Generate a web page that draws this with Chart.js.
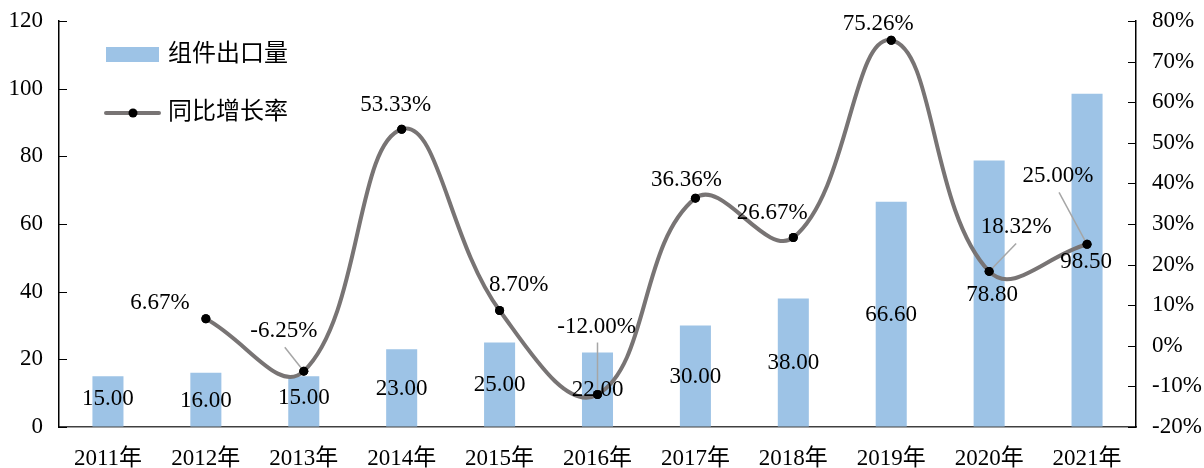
<!DOCTYPE html>
<html>
<head>
<meta charset="utf-8">
<script src="https://cdn.jsdelivr.net/npm/chart.js@4"></script>
<style>
html,body{margin:0;padding:0;background:#fff;}
#wrap{width:1204px;height:468px;}
</style>
</head>
<body>
<div id="wrap"><canvas id="c" width="1204" height="468"></canvas></div>
<script>
// ---- data ----
const categories = ['2011年','2012年','2013年','2014年','2015年','2016年','2017年','2018年','2019年','2020年','2021年'];
const exportVolume = [15.00, 16.00, 15.00, 23.00, 25.00, 22.00, 30.00, 38.00, 66.60, 78.80, 98.50];
const growthRate = [null, 6.67, -6.25, 53.33, 8.70, -12.00, 36.36, 26.67, 75.26, 18.32, 25.00];
const seriesNames = ['组件出口量', '同比增长率'];

// ---- label layout (pixel offsets, styling only) ----
// bar labels: [dx, dy] relative to bar base (dy upward from axis)
const barLabelOffset = [[0,28],[0,26],[0,29],[0,38],[0,42],[0,37],[0,50],[0,64],[0,112],[3,24],[-1,18]];
// line labels: [dx, dy] relative to point; leader flag
const lineLabelOffset = [null,[-46,-16],[-20,-40],[-6,-24],[19,-26],[-1,-68],[-9,-18],[-21,-25],[-13,-16],[27,-44],[-29,-68]];
const lineLabelLeader = [false,false,true,false,false,true,false,false,false,true,true];

const FONT = '"Liberation Serif", "Times New Roman", "Noto Sans CJK SC", serif';
const BAR_COLOR = '#9DC3E6';
const LINE_COLOR = '#787474';

const decorPlugin = {
  id: 'decor',
  afterDatasetsDraw(chart) {
    const ctx = chart.ctx;
    const ca = chart.chartArea;
    ctx.save();
    // inward tick marks
    ctx.strokeStyle = '#000';
    ctx.lineWidth = 1;
    const yS = chart.scales.y, y1S = chart.scales.y1;
    yS.ticks.forEach(t => {
      const py = Math.round(yS.getPixelForValue(t.value)) + 0.5;
      ctx.beginPath(); ctx.moveTo(ca.left, py); ctx.lineTo(ca.left + 8, py); ctx.stroke();
    });
    y1S.ticks.forEach(t => {
      const py = Math.round(y1S.getPixelForValue(t.value)) + 0.5;
      ctx.beginPath(); ctx.moveTo(ca.right, py); ctx.lineTo(ca.right - 8, py); ctx.stroke();
    });

    // bar labels
    ctx.font = '23px ' + FONT;
    ctx.fillStyle = '#000';
    ctx.textAlign = 'center';
    ctx.textBaseline = 'middle';
    const barMeta = chart.getDatasetMeta(0);
    const lineMeta = chart.getDatasetMeta(1);
    barMeta.data.forEach((el, i) => {
      const off = barLabelOffset[i];
      if (i >= 9) {
        // placed next to the growth point
        const pm = lineMeta.data[i];
        ctx.fillText(exportVolume[i].toFixed(2), pm.x + off[0], pm.y + off[1]);
      } else {
        ctx.fillText(exportVolume[i].toFixed(2), el.x + off[0], yS.getPixelForValue(0) - off[1]);
      }
    });

    // line labels + leaders
    lineMeta.data.forEach((el, i) => {
      if (growthRate[i] === null) return;
      const off = lineLabelOffset[i];
      const lx = el.x + off[0], ly = el.y + off[1];
      if (lineLabelLeader[i]) {
        ctx.strokeStyle = '#A6A6A6';
        ctx.lineWidth = 1.5;
        ctx.beginPath(); ctx.moveTo(lx + (off[0] < 0 ? 1 : 0), ly + 16); ctx.lineTo(el.x, el.y); ctx.stroke();
      }
      ctx.fillStyle = '#000';
      ctx.fillText(growthRate[i].toFixed(2) + '%', lx, ly);
    });
    // redraw points on top of leaders
    lineMeta.data.forEach((el, i) => {
      if (growthRate[i] === null) return;
      ctx.fillStyle = '#000';
      ctx.beginPath(); ctx.arc(el.x, el.y, 4.5, 0, Math.PI * 2); ctx.fill();
    });

    // legend
    ctx.fillStyle = BAR_COLOR;
    ctx.fillRect(106, 47, 53, 15);
    ctx.strokeStyle = LINE_COLOR;
    ctx.lineWidth = 4;
    ctx.lineCap = 'round';
    ctx.beginPath(); ctx.moveTo(106, 113); ctx.lineTo(159, 113); ctx.stroke();
    ctx.fillStyle = '#000';
    ctx.beginPath(); ctx.arc(133, 113, 4.5, 0, Math.PI * 2); ctx.fill();
    ctx.font = '24px ' + FONT;
    ctx.textAlign = 'left';
    ctx.fillText(seriesNames[0], 168, 55);
    ctx.fillText(seriesNames[1], 168, 113);
    ctx.restore();
  }
};

function fixV(w) {
  return function (s) { s.width = w; s.paddingTop = 0; s.paddingBottom = 0; };
}

new Chart(document.getElementById('c'), {
  type: 'bar',
  data: {
    labels: categories,
    datasets: [
      {
        type: 'bar',
        label: seriesNames[0],
        data: exportVolume,
        backgroundColor: BAR_COLOR,
        categoryPercentage: 1,
        barPercentage: 0.317,
        yAxisID: 'y',
        order: 2
      },
      {
        type: 'line',
        label: seriesNames[1],
        data: growthRate,
        borderColor: LINE_COLOR,
        borderWidth: 4,
        tension: 0.42,
        pointRadius: 4.5,
        pointBackgroundColor: '#000',
        pointBorderWidth: 0,
        yAxisID: 'y1',
        order: 1,
        spanGaps: false
      }
    ]
  },
  options: {
    responsive: false,
    animation: false,
    events: [],
    layout: { padding: { top: 21, left: 0, right: 0, bottom: 0 } },
    plugins: { legend: { display: false }, tooltip: { enabled: false } },
    scales: {
      x: {
        offset: true,
        grid: { display: false, drawTicks: false },
        border: { display: true, color: '#404040', width: 1.5 },
        ticks: { color: '#000', font: { family: FONT, size: 23 }, padding: 18, maxRotation: 0, autoSkip: false },
        afterFit(s) { s.height = 41; s.paddingLeft = 0; s.paddingRight = 0; }
      },
      y: {
        position: 'left',
        min: 0, max: 120,
        ticks: { stepSize: 20, color: '#000', font: { family: FONT, size: 23 }, padding: 16 },
        grid: { drawOnChartArea: false, drawTicks: false },
        border: { display: true, color: '#000', width: 1.5 },
        afterFit: fixV(59)
      },
      y1: {
        position: 'right',
        min: -20, max: 80,
        ticks: { stepSize: 10, color: '#000', font: { family: FONT, size: 23 }, padding: 16,
                 callback: v => v + '%' },
        grid: { drawOnChartArea: false, drawTicks: false },
        border: { display: true, color: '#000', width: 1.5 },
        afterFit: fixV(68)
      }
    }
  },
  plugins: [decorPlugin]
});
</script>
</body>
</html>
